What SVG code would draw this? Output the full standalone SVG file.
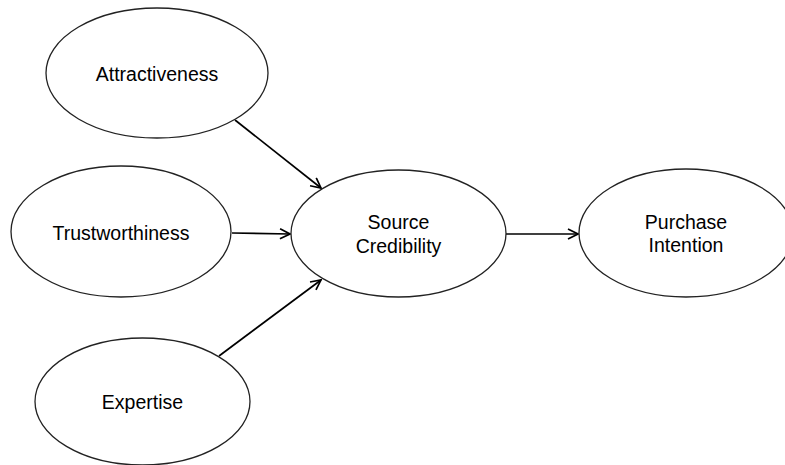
<svg xmlns="http://www.w3.org/2000/svg" width="785" height="465" viewBox="0 0 785 465">
  <style>
    .node ellipse { fill: #ffffff; stroke: #222222; stroke-width: 1.3; }
    .node text { font-family: "Liberation Sans", Arial, sans-serif; font-size: 19.5px; fill: #000000; text-anchor: middle; }
    .edge { stroke: #000000; stroke-width: 1.7; fill: none; marker-end: url(#arrow); }
  </style>
  <defs>
    <marker id="arrow" viewBox="0 0 12 12" refX="11" refY="6" markerWidth="12" markerHeight="12" markerUnits="userSpaceOnUse" orient="auto">
      <path d="M1,1 L11,6 L1,11" fill="none" stroke="#000000" stroke-width="1.7"/>
    </marker>
  </defs>
  <rect width="785" height="465" fill="#ffffff"/>

  <g id="connectors">
    <line class="edge" x1="235" y1="120" x2="321" y2="188"/>
    <line class="edge" x1="232" y1="233" x2="290" y2="234"/>
    <line class="edge" x1="219" y1="356" x2="321" y2="280"/>
    <line class="edge" x1="506" y1="234" x2="578" y2="234"/>
  </g>

  <g id="attractiveness" class="node">
    <ellipse cx="157" cy="73" rx="111" ry="65"/>
    <text x="157" y="81">Attractiveness</text>
  </g>
  <g id="trustworthiness" class="node">
    <ellipse cx="121" cy="231.5" rx="110" ry="65.5"/>
    <text x="121" y="239.5">Trustworthiness</text>
  </g>
  <g id="expertise" class="node">
    <ellipse cx="142.5" cy="401.5" rx="107.5" ry="63.5"/>
    <text x="142.5" y="409">Expertise</text>
  </g>
  <g id="source-credibility" class="node">
    <ellipse cx="398.5" cy="233.5" rx="107.5" ry="63.5"/>
    <text x="398.5" y="228.5">Source</text>
    <text x="398.5" y="252.5">Credibility</text>
  </g>
  <g id="purchase-intention" class="node">
    <ellipse cx="686" cy="233" rx="107" ry="64"/>
    <text x="686" y="228.5">Purchase</text>
    <text x="686" y="252">Intention</text>
  </g>
</svg>
